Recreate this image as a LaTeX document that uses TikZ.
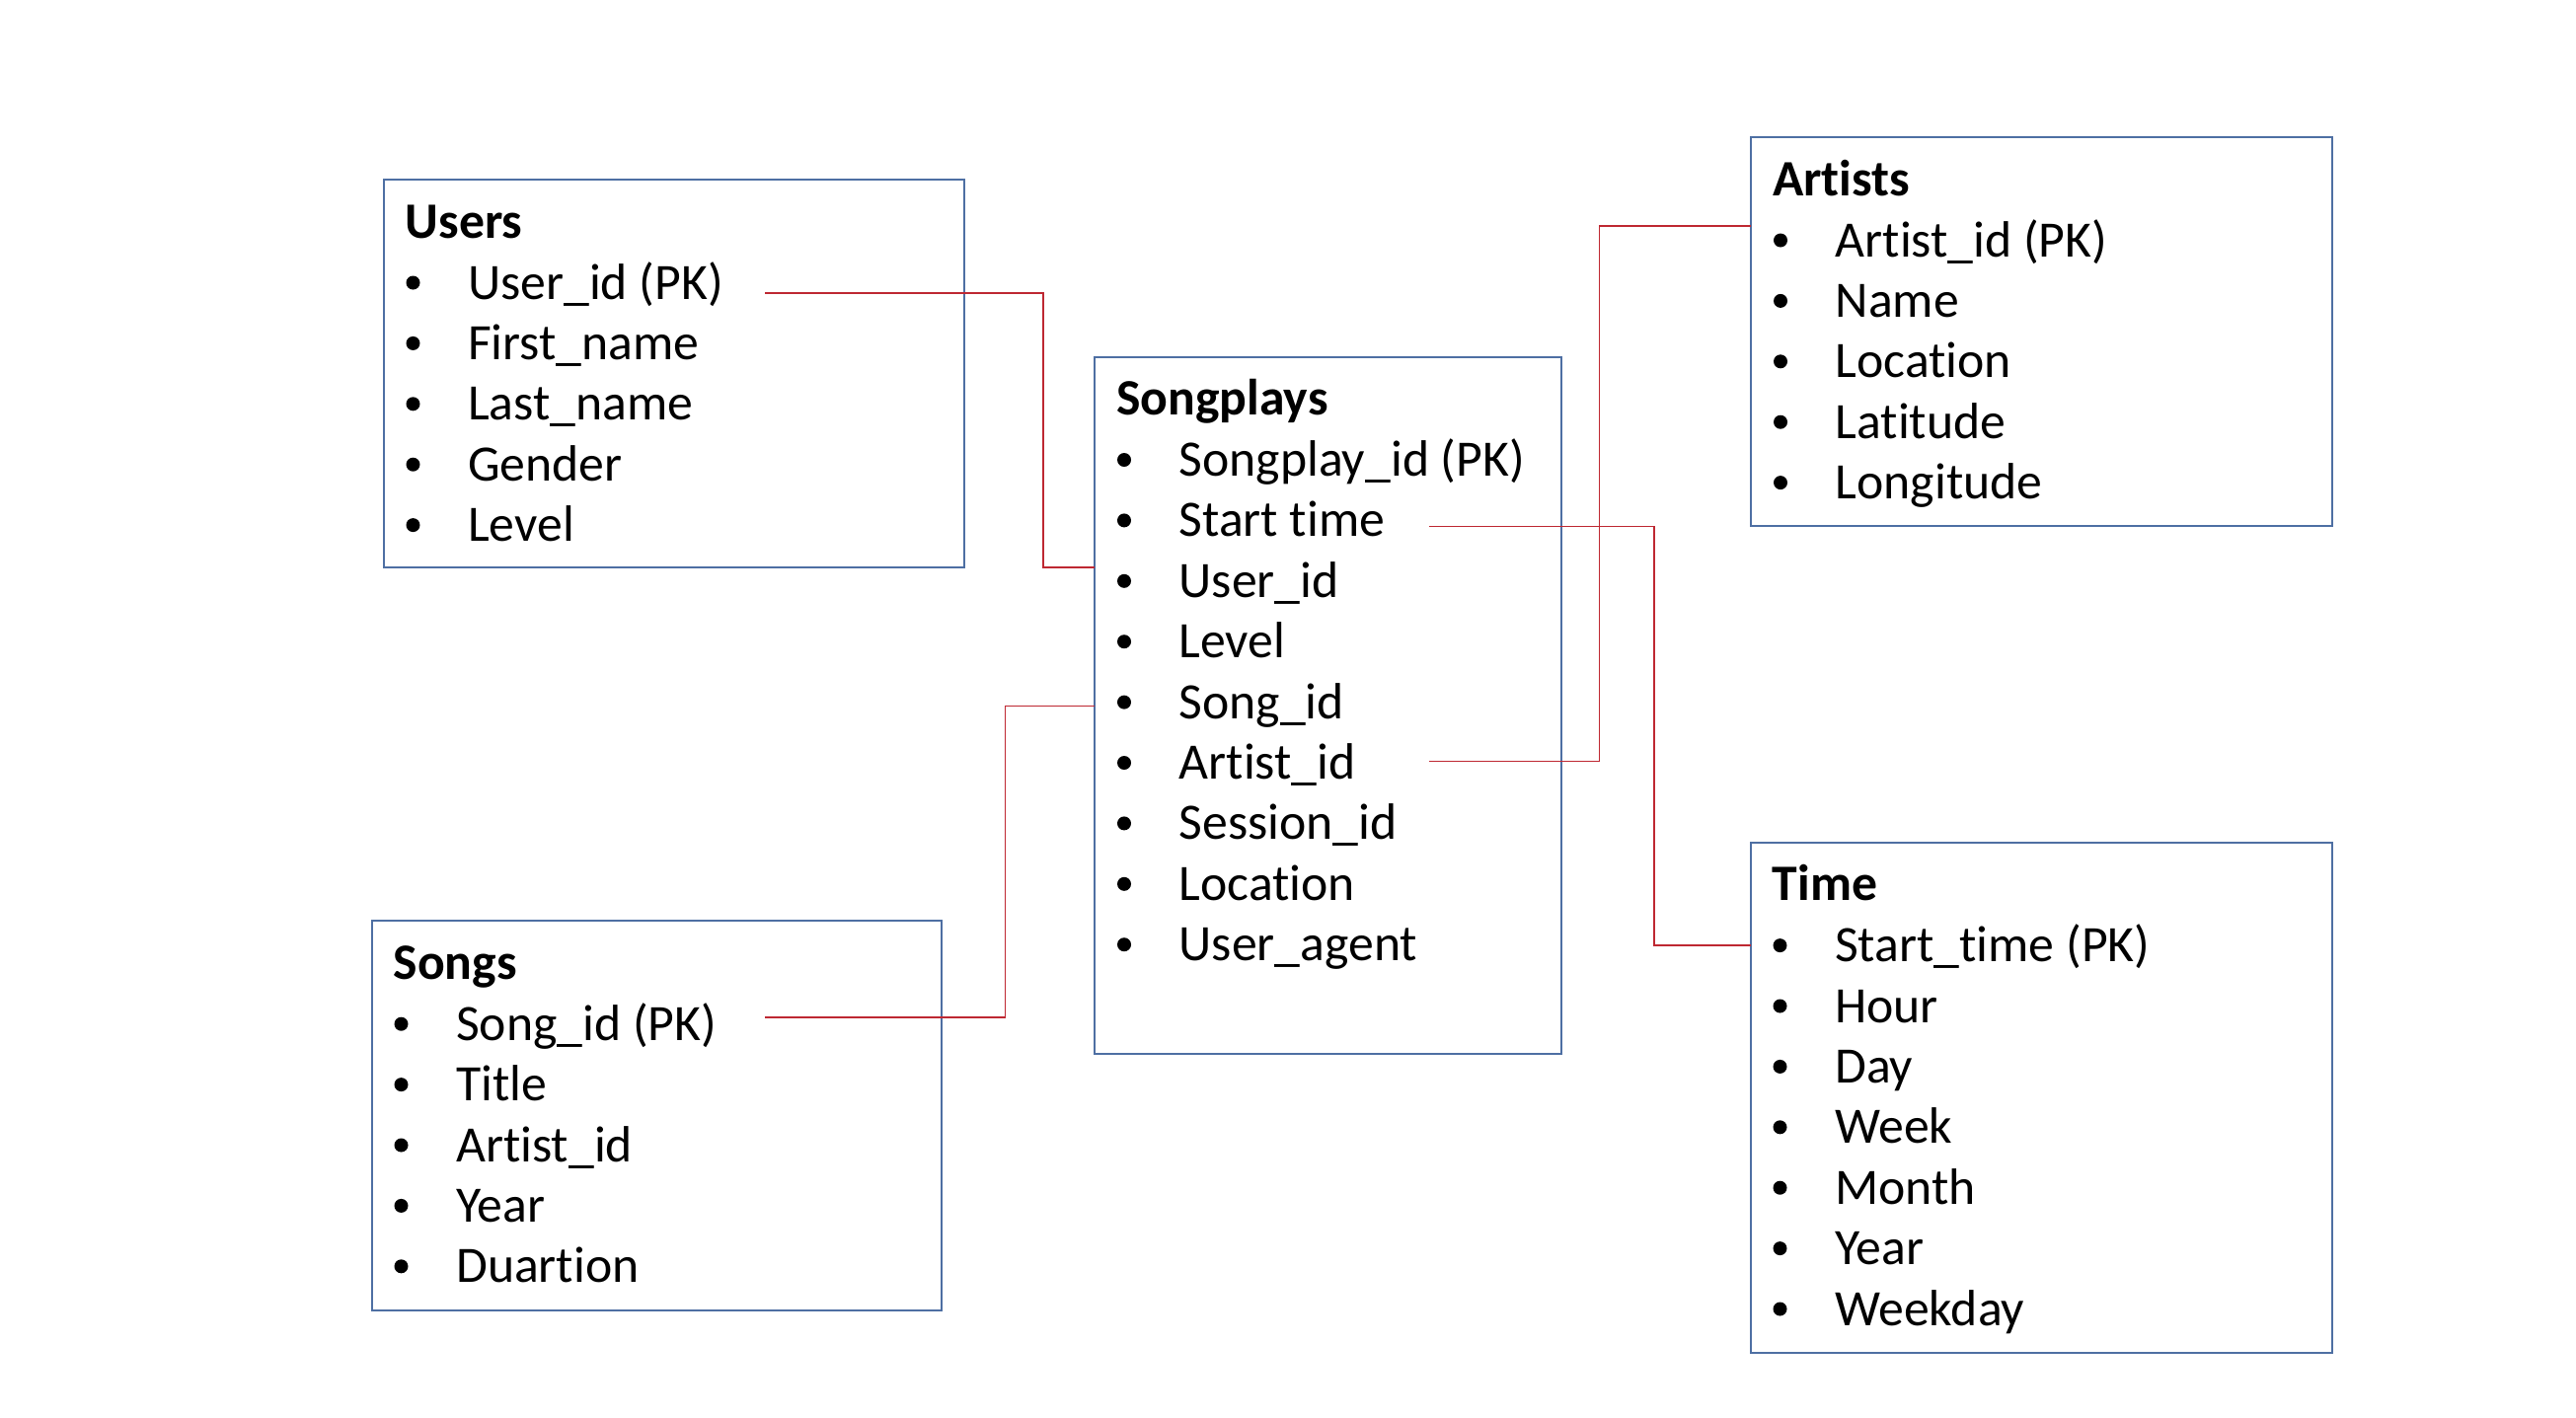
\documentclass[tikz,border=0pt]{standalone}
\usepackage{fontspec}
\setmainfont{Carlito}[Ligatures=NoCommon]
\usetikzlibrary{calc}
\definecolor{boxblue}{RGB}{78,111,163}
\definecolor{relred}{RGB}{190,40,50}
\tikzset{
  tbox/.style={draw=boxblue, line width=2pt, inner sep=0pt, outer sep=0pt, rectangle},
  ttl/.style={font=\fontsize{51.7pt}{62pt}\selectfont\bfseries, anchor=base west, inner sep=0pt},
  itm/.style={font=\fontsize{51.7pt}{62pt}\selectfont, anchor=base west, inner sep=0pt},
  bul/.style={circle, fill=black, minimum size=14pt, inner sep=0pt, outer sep=0pt},
  rel/.style={draw=relred, line width=1.1pt}
}
% #1 name, #2 left, #3 top, #4 width, #5 height, #6 title, #7 items
\newcommand{\mytable}[7]{%
  \node[tbox, minimum width=#4pt, minimum height=#5pt, anchor=north west] (#1) at (#2,#3) {};
  \node[ttl] (#1-t) at ($(#1.north west)+(22,59)$) {#6};
  \foreach \itemtext [count=\i] in {#7} {
    \node[bul] (#1-b\i) at ($(#1.north west)+(30,{121-16.5+61.4*(\i-1)})$) {};
    \node[itm] (#1-\i) at ($(#1.north west)+(85.5,{121+61.4*(\i-1)})$) {\itemtext};
  }
}
\begin{document}
\begin{tikzpicture}[x=1pt,y=-1pt]
\useasboundingbox[fill=white] (0,0) rectangle (2610,1436);

\mytable{users}{388.5}{182}{588.5}{393}{Users}{User\_id (PK),First\_name,Last\_name,Gender,Level}
\mytable{songplays}{1109}{361.5}{473}{706}{Songplays}{Songplay\_id (PK),Start time,User\_id,Level,Song\_id,Artist\_id,Session\_id,Location,User\_agent}
\mytable{artists}{1774}{139}{589}{394}{Artists}{Artist\_id (PK),Name,Location,Latitude,Longitude}
\mytable{songs}{376.5}{933.2}{577.5}{394.3}{Songs}{Song\_id (PK),Title,Artist\_id,Year,Duartion}
\mytable{time}{1773.5}{853.6}{589.5}{517.8}{Time}{Start\_time (PK),Hour,Day,Week,Month,Year,Weekday}

% connectors
\coordinate (c1s) at (775,297);
\coordinate (c1b) at (1057,575);
\draw[rel] (c1s) -- (c1s -| c1b) -- (c1b) -- (c1b -| songplays.west);

\coordinate (c2s) at (775,1031);
\coordinate (c2b) at (1018.4,715.5);
\draw[rel] (c2s) -- (c2s -| c2b) -- (c2b) -- (c2b -| songplays.west);

\coordinate (c3s) at (1448.3,771.6);
\coordinate (c3b) at (1620.5,229);
\draw[rel] (c3s) -- (c3s -| c3b) -- (c3b) -- (c3b -| artists.west);

\coordinate (c4s) at (1448.3,533.5);
\coordinate (c4b) at (1676,958);
\draw[rel] (c4s) -- (c4s -| c4b) -- (c4b) -- (c4b -| time.west);
\end{tikzpicture}
\end{document}
